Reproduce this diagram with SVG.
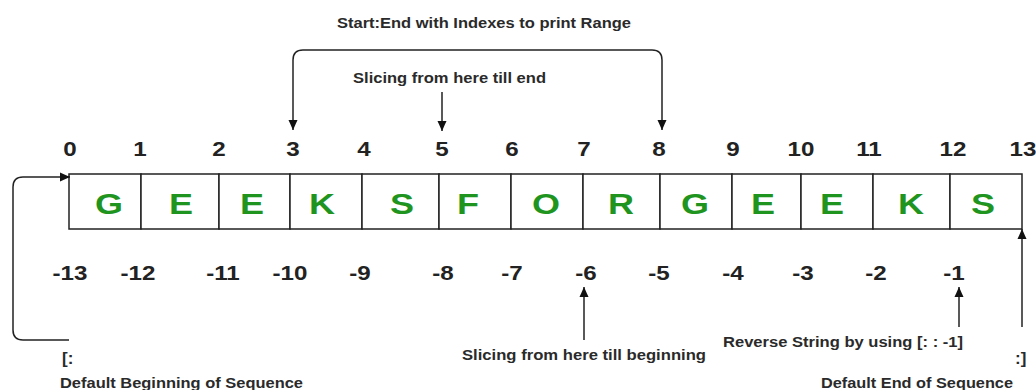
<svg xmlns="http://www.w3.org/2000/svg" width="1036" height="390" viewBox="0 0 1036 390">
<defs>
<marker id="ah" markerWidth="10" markerHeight="11" refX="10" refY="5" orient="auto" markerUnits="userSpaceOnUse">
<path d="M0,0.5 L10,5 L0,9.5 Z" fill="#111"/>
</marker>
<style>
.lbl{font-family:"Liberation Sans",Arial,sans-serif;font-weight:bold;font-size:14.5px;fill:#2a2a2a}
.idx{font-family:"Liberation Sans",Arial,sans-serif;font-weight:bold;font-size:21px;fill:#222;text-anchor:middle}
.ch{font-family:"Liberation Sans",Arial,sans-serif;font-weight:bold;font-size:30px;fill:#1f951f;text-anchor:middle}
.cell{fill:#fff;stroke:#222;stroke-width:1.5}
.con{fill:none;stroke:#222;stroke-width:1.5;marker-end:url(#ah)}
</style>
</defs>
<rect width="1036" height="390" fill="#fff"/>
<g id="cells">
<rect class="cell" x="69" y="174" width="72" height="55"/>
<rect class="cell" x="141" y="174" width="78" height="55"/>
<rect class="cell" x="219" y="174" width="71" height="55"/>
<rect class="cell" x="290" y="174" width="72" height="55"/>
<rect class="cell" x="362" y="174" width="77" height="55"/>
<rect class="cell" x="439" y="174" width="72" height="55"/>
<rect class="cell" x="511" y="174" width="72" height="55"/>
<rect class="cell" x="583" y="174" width="77" height="55"/>
<rect class="cell" x="660" y="174" width="72" height="55"/>
<rect class="cell" x="732" y="174" width="69" height="55"/>
<rect class="cell" x="801" y="174" width="72" height="55"/>
<rect class="cell" x="873" y="174" width="77" height="55"/>
<rect class="cell" x="950" y="174" width="72" height="55"/>
<text class="ch" transform="translate(109,214) scale(1.2,1)">G</text>
<text class="ch" transform="translate(181,214) scale(1.2,1)">E</text>
<text class="ch" transform="translate(252,214) scale(1.2,1)">E</text>
<text class="ch" transform="translate(322,214) scale(1.2,1)">K</text>
<text class="ch" transform="translate(402,214) scale(1.2,1)">S</text>
<text class="ch" transform="translate(468,214) scale(1.2,1)">F</text>
<text class="ch" transform="translate(546,214) scale(1.2,1)">O</text>
<text class="ch" transform="translate(621,214) scale(1.2,1)">R</text>
<text class="ch" transform="translate(695,214) scale(1.2,1)">G</text>
<text class="ch" transform="translate(763,214) scale(1.2,1)">E</text>
<text class="ch" transform="translate(832,214) scale(1.2,1)">E</text>
<text class="ch" transform="translate(911,214) scale(1.2,1)">K</text>
<text class="ch" transform="translate(983,214) scale(1.2,1)">S</text>
</g>
<g id="pos-index">
<text class="idx" transform="translate(70,156) scale(1.15,1)">0</text>
<text class="idx" transform="translate(140,156) scale(1.15,1)">1</text>
<text class="idx" transform="translate(219,156) scale(1.15,1)">2</text>
<text class="idx" transform="translate(293,156) scale(1.15,1)">3</text>
<text class="idx" transform="translate(364,156) scale(1.15,1)">4</text>
<text class="idx" transform="translate(442,156) scale(1.15,1)">5</text>
<text class="idx" transform="translate(512,156) scale(1.15,1)">6</text>
<text class="idx" transform="translate(584,156) scale(1.15,1)">7</text>
<text class="idx" transform="translate(659,156) scale(1.15,1)">8</text>
<text class="idx" transform="translate(733,156) scale(1.15,1)">9</text>
<text class="idx" transform="translate(801,156) scale(1.15,1)">10</text>
<text class="idx" transform="translate(869,156) scale(1.15,1)">11</text>
<text class="idx" transform="translate(953,156) scale(1.15,1)">12</text>
<text class="idx" transform="translate(1023,156) scale(1.15,1)">13</text>
</g>
<g id="neg-index">
<text class="idx" transform="translate(70,280) scale(1.15,1)">-13</text>
<text class="idx" transform="translate(138,280) scale(1.15,1)">-12</text>
<text class="idx" transform="translate(223,280) scale(1.15,1)">-11</text>
<text class="idx" transform="translate(290,280) scale(1.15,1)">-10</text>
<text class="idx" transform="translate(360,280) scale(1.15,1)">-9</text>
<text class="idx" transform="translate(443,280) scale(1.15,1)">-8</text>
<text class="idx" transform="translate(512,280) scale(1.15,1)">-7</text>
<text class="idx" transform="translate(586,280) scale(1.15,1)">-6</text>
<text class="idx" transform="translate(659,280) scale(1.15,1)">-5</text>
<text class="idx" transform="translate(733,280) scale(1.15,1)">-4</text>
<text class="idx" transform="translate(803,280) scale(1.15,1)">-3</text>
<text class="idx" transform="translate(876,280) scale(1.15,1)">-2</text>
<text class="idx" transform="translate(954,280) scale(1.15,1)">-1</text>
</g>
<g id="labels">
<text class="lbl" x="337" y="28" textLength="294" lengthAdjust="spacingAndGlyphs">Start:End with Indexes to print Range</text>
<text class="lbl" x="353" y="83" textLength="193" lengthAdjust="spacingAndGlyphs">Slicing from here till end</text>
<text class="lbl" x="462" y="360" textLength="244" lengthAdjust="spacingAndGlyphs">Slicing from here till beginning</text>
<text class="lbl" x="723" y="347" textLength="240" lengthAdjust="spacingAndGlyphs">Reverse String by using [: : -1]</text>
<text class="lbl" x="62" y="364" style="font-size:17px">[:</text>
<text class="lbl" x="60" y="388" textLength="243" lengthAdjust="spacingAndGlyphs">Default Beginning of Sequence</text>
<text class="lbl" x="1015" y="364" style="font-size:17px">:]</text>
<text class="lbl" x="821" y="388" textLength="192" lengthAdjust="spacingAndGlyphs">Default End of Sequence</text>
</g>
<g id="connectors">
<path class="con" d="M293,60 Q293,50 303,50 L652,50 Q662,50 662,60 L662,130"/>
<path class="con" d="M293,60 L293,130"/>
<path class="con" d="M442,92 L442,131"/>
<path class="con" d="M69,340 L23,340 Q13,340 13,330 L13,187 Q13,177 23,177 L70,177"/>
<path class="con" d="M584,340 L584,287"/>
<path class="con" d="M959,327 L959,287"/>
<path class="con" d="M1022,327 L1022,229"/>
</g>
</svg>
